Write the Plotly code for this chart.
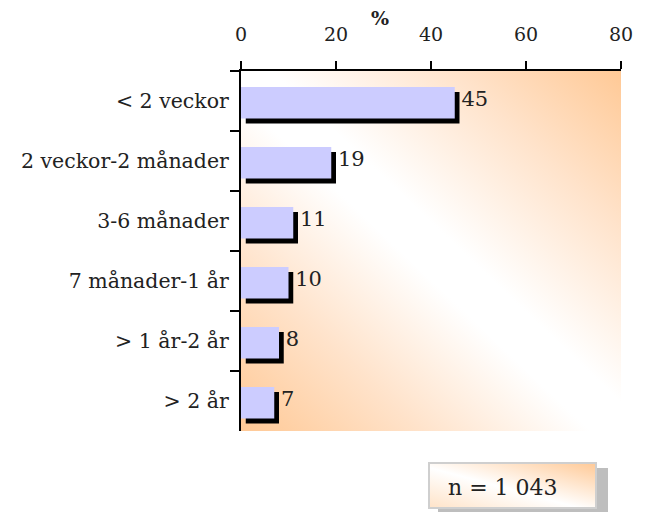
import base64
import plotly.graph_objects as go

categories = ["< 2 veckor", "2 veckor-2 månader", "3-6 månader", "7 månader-1 år", "> 1 år-2 år", "> 2 år"]
values = [45, 19, 11, 10, 8, 7]
x_ticks = [0, 20, 40, 60, 80]
n_label = "n = 1 043"
axis_title = "%"

PEACH = "#FFC996"
SERIF = "DejaVu Serif"

def svg_uri(svg):
    return "data:image/svg+xml;base64," + base64.b64encode(svg.encode("utf-8")).decode("ascii")

bg_svg = f"""<svg xmlns='http://www.w3.org/2000/svg' width='380' height='360' viewBox='0 0 380 360' preserveAspectRatio='none'>
<defs><linearGradient id='g' x1='0' y1='1' x2='1' y2='0'>
<stop offset='0' stop-color='{PEACH}'/><stop offset='0.24' stop-color='#FFE3CB'/>
<stop offset='0.46' stop-color='#FFFFFF'/><stop offset='0.54' stop-color='#FFFFFF'/>
<stop offset='0.78' stop-color='#FFE3CB'/><stop offset='1' stop-color='{PEACH}'/></linearGradient></defs>
<rect x='0' y='0' width='380' height='360' fill='url(#g)'/></svg>"""

box_svg = f"""<svg xmlns='http://www.w3.org/2000/svg' width='180' height='52' viewBox='0 0 180 52' preserveAspectRatio='none'>
<defs><linearGradient id='b' x1='0' y1='1' x2='1' y2='0'>
<stop offset='0' stop-color='#FFE3C8'/><stop offset='0.45' stop-color='#FFFFFF'/>
<stop offset='1' stop-color='{PEACH}'/></linearGradient></defs>
<rect x='10' y='6' width='170' height='46' fill='#BEBEBE'/>
<rect x='1' y='1' width='167' height='45' fill='url(#b)' stroke='#CFCFCF' stroke-width='2'/></svg>"""

fig = go.Figure()

# shadow bars
fig.add_trace(go.Bar(
    y=categories, x=values, base=1.0, orientation="h",
    width=0.525, offset=-0.15, marker=dict(color="black", line=dict(width=0)),
    hoverinfo="skip", showlegend=False))
# main bars
fig.add_trace(go.Bar(
    y=categories, x=values, orientation="h",
    width=0.525, offset=-0.235, marker=dict(color="#CCCCFF", line=dict(width=0)),
    showlegend=False))
# value labels
fig.add_trace(go.Scatter(
    y=categories, x=[v + 1.4 for v in values], mode="text",
    text=[str(v) for v in values], textposition="middle right",
    textfont=dict(family=SERIF, size=21, color="#222222"),
    hoverinfo="skip", showlegend=False, cliponaxis=False))

# page body has an 8px margin; figure coordinates = page coordinates - 8
OFF = 8
W, H = 646 - OFF, 512 - OFF
L, T = 241 - OFF, 71 - OFF
R, B = W - (621 - OFF), H - (431 - OFF)
pw, ph = W - L - R, H - T - B

def px_to_paper(x, y):
    return (x - OFF - L) / pw, (H - B - (y - OFF)) / ph

bx, by = px_to_paper(428, 462)
px_, py_ = px_to_paper(380, 18)
nx, ny = px_to_paper(503, 488)

fig.update_layout(
    width=W, height=H,
    margin=dict(l=L, r=R, t=T, b=B),
    paper_bgcolor="white", plot_bgcolor="rgba(0,0,0,0)",
    barmode="overlay",
    xaxis=dict(side="top", range=[0, 80], tickvals=x_ticks, ticktext=[str(t) for t in x_ticks],
               showgrid=False, zeroline=False, showline=True, linecolor="black", linewidth=2,
               ticks="outside", ticklen=8, tickwidth=2, tickcolor="black",
               ticklabelstandoff=12,
               tickfont=dict(family=SERIF, size=19, color="#222222"),
               fixedrange=True),
    yaxis=dict(type="category", autorange="reversed", tickson="boundaries",
               showgrid=False, zeroline=False, showline=True, linecolor="black", linewidth=2,
               ticks="outside", ticklen=9, tickwidth=2, tickcolor="black",
               ticklabelstandoff=6,
               tickfont=dict(family=SERIF, size=20.5, color="#222222")),
    images=[
        dict(source=svg_uri(bg_svg), xref="paper", yref="paper", x=0, y=1, sizex=1, sizey=1,
             sizing="stretch", layer="below", xanchor="left", yanchor="top"),
        dict(source=svg_uri(box_svg), xref="paper", yref="paper", x=bx, y=by,
             sizex=180 / pw, sizey=52 / ph, sizing="stretch", layer="above",
             xanchor="left", yanchor="top"),
    ],
    annotations=[
        dict(text=f"<b>{axis_title}</b>", xref="paper", yref="paper",
             x=px_, y=py_, showarrow=False, xanchor="center", yanchor="middle",
             font=dict(family=SERIF, size=19, color="#222222")),
        dict(text=n_label, xref="paper", yref="paper",
             x=nx, y=ny, showarrow=False, xanchor="center", yanchor="middle",
             font=dict(family=SERIF, size=22, color="#222222")),
    ],
)

fig.write_html("out.html")
